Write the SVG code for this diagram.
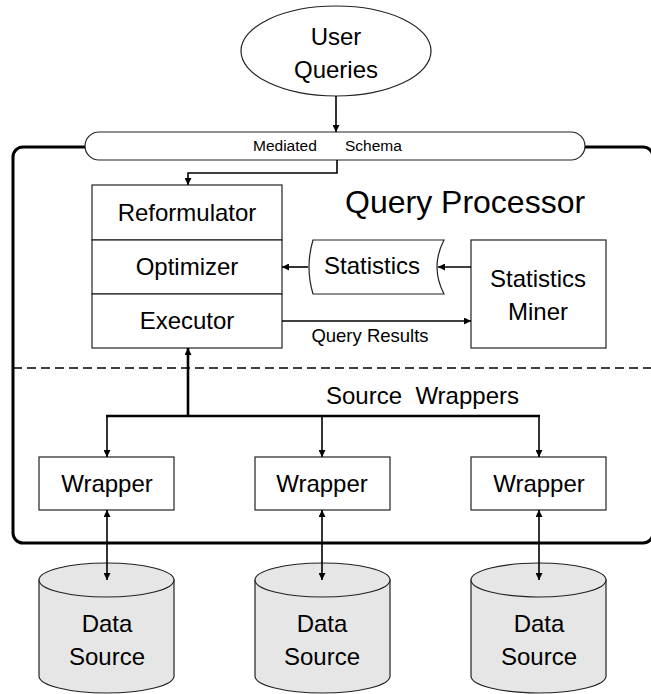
<svg xmlns="http://www.w3.org/2000/svg" width="651" height="694" viewBox="0 0 651 694">
<defs>
<style>
text{font-family:"Liberation Sans",Arial,sans-serif;fill:#000;text-anchor:middle}
.box{fill:#fff;stroke:#222;stroke-width:1.2}
.db{fill:#e6e6e6;stroke:#222;stroke-width:1.2}
.ln{fill:none;stroke:#000;stroke-width:1.6}
.thick{fill:none;stroke:#000;stroke-width:2.6}
.t24{font-size:24px}
</style>
<marker id="ah" viewBox="0 0 10 10" refX="10" refY="5" markerWidth="7" markerHeight="7" markerUnits="userSpaceOnUse" orient="auto-start-reverse">
<path d="M0,0 L10,5 L0,10 Z" fill="#000"/>
</marker>
</defs>
<rect width="651" height="694" fill="#fff"/>
<g id="frame">
<rect x="13" y="147" width="640" height="396" rx="10" fill="none" stroke="#000" stroke-width="3"/>
<line x1="13" y1="368" x2="651" y2="368" stroke="#000" stroke-width="1.4" stroke-dasharray="9,5"/>
<text x="345" y="213" font-size="32" style="text-anchor:start">Query Processor</text>
<text x="326" y="404" class="t24" style="text-anchor:start" xml:space="preserve">Source  Wrappers</text>
</g>
<g id="user-queries">
<ellipse cx="336" cy="51" rx="95" ry="45" class="box"/>
<text x="336" y="45" class="t24">User</text>
<text x="336" y="78" class="t24">Queries</text>
</g>
<g id="mediated-schema">
<rect x="85" y="132" width="500" height="28" rx="14" class="box"/>
<text font-size="15.5" style="text-anchor:start" y="151"><tspan x="253">Mediated</tspan><tspan x="345">Schema</tspan></text>
</g>
<g id="reformulator">
<rect x="92" y="185" width="190" height="55" class="box"/>
<text x="187" y="221" class="t24">Reformulator</text>
</g>
<g id="optimizer">
<rect x="92" y="240" width="190" height="54" class="box"/>
<text x="187" y="275" class="t24">Optimizer</text>
</g>
<g id="executor">
<rect x="92" y="294" width="190" height="54" class="box"/>
<text x="187" y="329" class="t24">Executor</text>
</g>
<g id="statistics">
<path d="M313,240 L444,240 Q430,267 444,294 L313,294 Q305,267 313,240 Z" class="box"/>
<text x="372" y="274" class="t24">Statistics</text>
</g>
<g id="statistics-miner">
<rect x="471" y="240" width="135" height="108" class="box"/>
<text x="538" y="287" class="t24">Statistics</text>
<text x="538" y="320" class="t24">Miner</text>
</g>
<g id="wrapper1">
<rect x="39" y="457" width="135" height="53" class="box"/>
<text x="107" y="492" class="t24">Wrapper</text>
</g>
<g id="wrapper2">
<rect x="255" y="457" width="135" height="53" class="box"/>
<text x="322" y="492" class="t24">Wrapper</text>
</g>
<g id="wrapper3">
<rect x="471" y="457" width="135" height="53" class="box"/>
<text x="539" y="492" class="t24">Wrapper</text>
</g>
<g id="source1">
<path d="M39,580 L39,676 A67.5,17 0 0 0 174,676 L174,580 Z" class="db"/>
<ellipse cx="106.5" cy="580" rx="67.5" ry="17" class="db"/>
<text x="107" y="632" class="t24">Data</text>
<text x="107" y="665" class="t24">Source</text>
</g>
<g id="source2">
<path d="M255,580 L255,676 A67.5,17 0 0 0 390,676 L390,580 Z" class="db"/>
<ellipse cx="322.5" cy="580" rx="67.5" ry="17" class="db"/>
<text x="322" y="632" class="t24">Data</text>
<text x="322" y="665" class="t24">Source</text>
</g>
<g id="source3">
<path d="M471,580 L471,676 A67.5,17 0 0 0 606,676 L606,580 Z" class="db"/>
<ellipse cx="538.5" cy="580" rx="67.5" ry="17" class="db"/>
<text x="539" y="632" class="t24">Data</text>
<text x="539" y="665" class="t24">Source</text>
</g>
<g id="connectors">
<line x1="336" y1="96" x2="336" y2="132" class="ln" marker-end="url(#ah)"/>
<polyline points="337,160 337,173 188,173 188,185" class="ln" marker-end="url(#ah)"/>
<line x1="471" y1="267" x2="438" y2="267" class="ln" marker-end="url(#ah)"/>
<line x1="308" y1="267" x2="282" y2="267" class="ln" marker-end="url(#ah)"/>
<line x1="282" y1="321" x2="471" y2="321" class="ln" marker-end="url(#ah)"/>
<text x="370" y="342" font-size="18.5">Query Results</text>
<line x1="188" y1="416" x2="188" y2="348" class="thick" marker-end="url(#ah)"/>
<line x1="106" y1="416" x2="540" y2="416" class="thick"/>
<line x1="107" y1="416" x2="107" y2="457" class="ln" marker-end="url(#ah)"/>
<line x1="322" y1="416" x2="322" y2="457" class="ln" marker-end="url(#ah)"/>
<line x1="539" y1="416" x2="539" y2="457" class="ln" marker-end="url(#ah)"/>
<line x1="107" y1="510" x2="107" y2="580" class="ln" marker-start="url(#ah)" marker-end="url(#ah)"/>
<line x1="322" y1="510" x2="322" y2="580" class="ln" marker-start="url(#ah)" marker-end="url(#ah)"/>
<line x1="539" y1="510" x2="539" y2="580" class="ln" marker-start="url(#ah)" marker-end="url(#ah)"/>
</g>
</svg>
